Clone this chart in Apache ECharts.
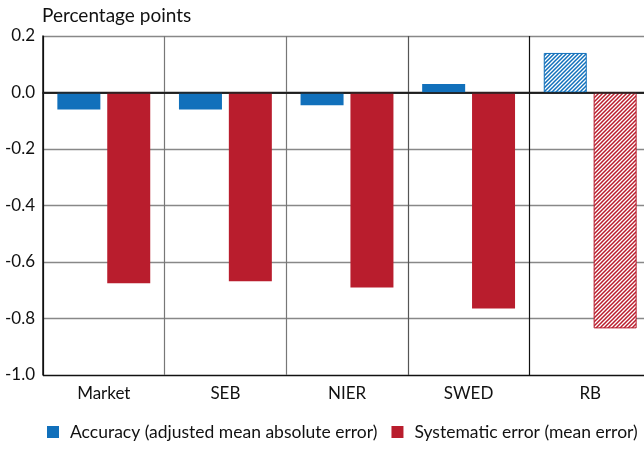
<!DOCTYPE html>
<html>
<head>
<meta charset="utf-8">
<script src="https://cdn.jsdelivr.net/npm/echarts@6/dist/echarts.min.js"></script>
<style>
  html, body { margin: 0; padding: 0; background: #fff; }
  #chart { width: 644px; height: 450px; }
</style>
</head>
<body>
<div id="chart"></div>
<script>
// categories and values (percentage points)
var categories = ['Market', 'SEB', 'NIER', 'SWED', 'RB'];
var accuracy = [-0.06, -0.06, -0.045, 0.03, 0.14];
var systematic = [-0.675, -0.668, -0.69, -0.765, -0.835];
var yTicks = [-1.0, -0.8, -0.6, -0.4, -0.2, 0.0, 0.2];
// last category is drawn hatched
var hatched = [false, false, false, false, true];

var BLUE = '#1170bb';
var RED = '#b91d2d';

// diagonal stripe pattern for the hatched bars
function stripes(color) {
    var c = document.createElement('canvas');
    c.width = 4;
    c.height = 4;
    var ctx = c.getContext('2d');
    ctx.fillStyle = '#fff';
    ctx.fillRect(0, 0, 4, 4);
    ctx.strokeStyle = color;
    ctx.lineWidth = 1.5;
    ctx.beginPath();
    ctx.moveTo(-1, 5); ctx.lineTo(5, -1);
    ctx.moveTo(-1, 1); ctx.lineTo(1, -1);
    ctx.moveTo(3, 5); ctx.lineTo(5, 3);
    ctx.stroke();
    return c;
}

function buildData(values, color) {
    var out = [];
    for (var i = 0; i < values.length; i++) {
        if (hatched[i]) {
            out.push({
                value: values[i],
                itemStyle: {
                    color: { image: stripes(color), repeat: 'repeat' },
                    borderColor: color,
                    borderWidth: 1
                }
            });
        } else {
            out.push(values[i]);
        }
    }
    return out;
}

var myChart = echarts.init(document.getElementById('chart'));
var font = 'Lato, "Open Sans", sans-serif';
var options = {
    animation: false,
    textStyle: { fontFamily: font },
    title: {
        text: 'Percentage points',
        left: 37,
        top: 1,
        textStyle: { fontSize: 19, fontWeight: 'normal', color: '#111', fontFamily: font }
    },
    legend: {
        left: 42,
        bottom: 4,
        icon: 'rect',
        itemWidth: 12,
        itemHeight: 12,
        itemGap: 14,
        textStyle: { fontSize: 17.5, color: '#111', fontFamily: font, padding: [0, 0, 0, 6] },
        data: ['Accuracy (adjusted mean absolute error)', 'Systematic error (mean error)']
    },
    // plot runs past the right edge of the picture
    grid: { left: 43, right: -7, top: 36, bottom: 75, outerBoundsMode: 'none' },
    xAxis: {
        type: 'category',
        data: categories,
        axisLine: { lineStyle: { color: '#111', width: 1.5 } },
        axisTick: { show: false },
        axisLabel: { fontSize: 17, color: '#111', margin: 10 },
        splitLine: {
            show: true,
            interval: 0,
            lineStyle: { color: ['#111', '#777', '#777', '#555', '#111', '#777'], width: 1.2 }
        }
    },
    yAxis: {
        type: 'value',
        min: yTicks[0],
        max: yTicks[yTicks.length - 1],
        interval: 0.2,
        axisLine: { show: true, lineStyle: { color: '#111', width: 1.5 } },
        axisTick: { show: false },
        axisLabel: {
            fontSize: 17,
            color: '#111',
            margin: 8,
            formatter: function (v) { return v.toFixed(1); }
        },
        splitLine: {
            lineStyle: { color: ['#111', '#888', '#888', '#888', '#888', '#222', '#888'], width: 1.3 }
        }
    },
    series: [{
        name: 'Accuracy (adjusted mean absolute error)',
        type: 'bar',
        barWidth: 43,
        barGap: '16%',
        itemStyle: { color: BLUE },
        data: buildData(accuracy, BLUE)
    }, {
        name: 'Systematic error (mean error)',
        type: 'bar',
        barWidth: 43,
        itemStyle: { color: RED },
        data: buildData(systematic, RED),
        markLine: {
            silent: true,
            symbol: 'none',
            label: { show: false },
            lineStyle: { color: '#222', type: 'solid', width: 1.5 },
            data: [{ yAxis: 0 }]
        }
    }]
};
myChart.setOption(options, true);
</script>
</body>
</html>
